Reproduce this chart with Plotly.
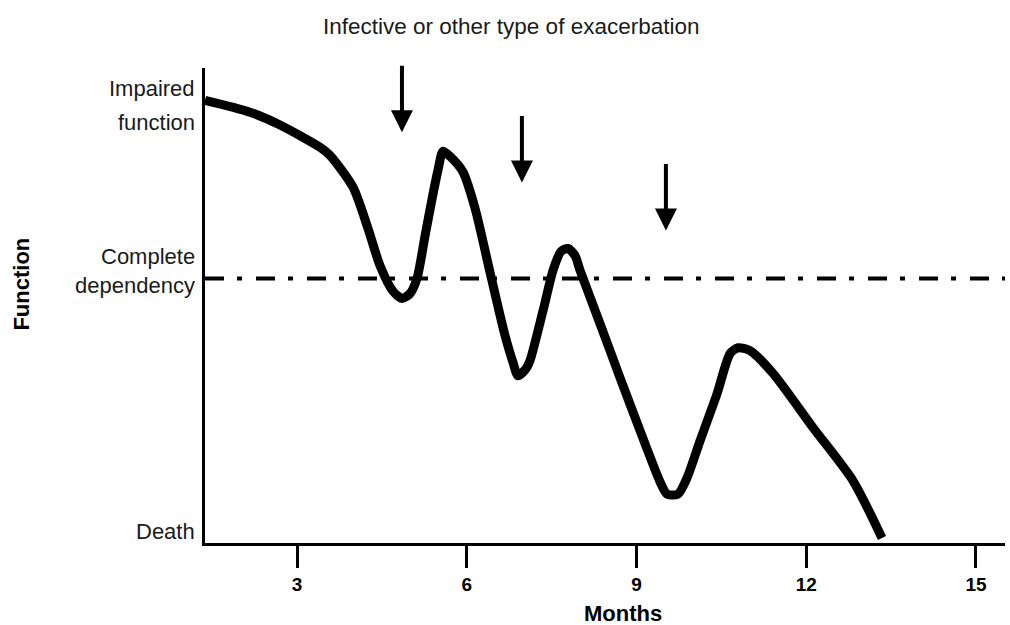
import plotly.graph_objects as go

# ---------------- data ----------------
months = [1.374, 2.169, 2.700, 3.407, 3.583, 3.990, 4.255, 4.467, 4.697, 4.856,
          4.997, 5.121, 5.262, 5.386, 5.492, 5.580, 5.704, 5.934, 6.146, 6.411,
          6.676, 6.818, 6.906, 7.047, 7.118, 7.348, 7.525, 7.666, 7.790,
          7.914, 8.002, 8.355, 8.709, 9.151, 9.416, 9.540, 9.734,
          9.893, 10.123, 10.423, 10.655, 10.796, 11.006, 11.413, 12.120, 12.827,
          13.339]
function_level = [93.2, 90.7, 88.0, 83.3, 81.6, 74.9, 66.2, 58.4, 53.0, 51.5,
                  52.5, 55.7, 64.6, 72.4, 78.5, 82.5, 81.4, 78.1, 70.5, 57.0,
                  43.7, 38.0, 35.2, 36.7, 38.4, 48.9, 57.4, 61.4, 62.0,
                  60.5, 57.4, 46.2, 34.8, 20.9, 12.9, 10.3, 10.3,
                  13.7, 21.5, 31.4, 39.9, 41.1, 40.5, 35.7, 24.3, 13.1,
                  1.05]

dependency_level = 55.7
exacerbation_months = [4.855, 6.975, 9.52]
exacerbation_tip_level = [86.5, 75.9, 65.8]

x_ticks = [3, 6, 9, 12, 15]
y_label_lines = ["Impaired", "function", "Complete", "dependency", "Death"]
y_label_levels = [95.6, 88.6, 60.3, 54.2, 2.5]

x_range = [1.374, 15.513]
y_range = [0, 100]

REG = "Liberation Sans, Arial, sans-serif"
BOLD = "Liberation Sans, Arial, sans-serif"

fig = go.Figure()

# dash-dot reference line (complete dependency)
fig.add_trace(go.Scatter(
    x=x_range, y=[dependency_level, dependency_level], mode="lines",
    line=dict(color="black", width=4, dash="19px,13px,5px,14px"),
    hoverinfo="skip", showlegend=False, cliponaxis=False))

# function trajectory
fig.add_trace(go.Scatter(
    x=months, y=function_level, mode="lines",
    line=dict(color="black", width=9, shape="spline", smoothing=0.7),
    showlegend=False, cliponaxis=False))

annotations = []
for xm, yt in zip(exacerbation_months, exacerbation_tip_level):
    annotations.append(dict(
        x=xm, y=yt, xref="x", yref="y", text="", showarrow=True,
        ax=0, ay=-68, arrowhead=2, arrowsize=1.1, arrowwidth=4,
        arrowcolor="black", standoff=0))

for txt, lv in zip(y_label_lines, y_label_levels):
    annotations.append(dict(
        x=0, xref="paper", y=lv, yref="y", text=txt, showarrow=False,
        xanchor="right", yanchor="middle", xshift=-8,
        font=dict(family=REG, size=22, color="#1a1a1a")))

annotations.append(dict(
    x=(511 - 205) / 800, xref="paper", y=1, yref="paper", yshift=42,
    xanchor="center", yanchor="middle", showarrow=False,
    text="Infective or other type of exacerbation",
    font=dict(family=REG, size=22.5, color="#1a1a1a")))

annotations.append(dict(
    x=0, xref="paper", xshift=-183, y=54.4, yref="y",
    text="<b>Function</b>", textangle=-90, showarrow=False,
    xanchor="center", yanchor="middle",
    font=dict(family=BOLD, size=22, color="black")))

annotations.append(dict(
    x=8.76, xref="x", y=0, yref="paper", yshift=-70,
    text="<b>Months</b>", showarrow=False,
    xanchor="center", yanchor="middle",
    font=dict(family=BOLD, size=22, color="black")))

fig.update_layout(
    width=1010, height=625,
    margin=dict(l=205, r=5, t=68, b=82),
    paper_bgcolor="white", plot_bgcolor="white",
    annotations=annotations,
    xaxis=dict(range=x_range, tickvals=x_ticks, ticktext=[str(t) for t in x_ticks],
               showline=True, linecolor="black", linewidth=3,
               ticks="outside", ticklen=22, tickwidth=3, tickcolor="black",
               showgrid=False, zeroline=False,
               tickfont=dict(family=BOLD, size=19, color="black", weight="bold")),
    yaxis=dict(range=y_range, showline=True, linecolor="black", linewidth=3,
               showticklabels=False, ticks="", showgrid=False, zeroline=False),
)

fig.write_html("out.html", config={"displayModeBar": False},
               post_script="document.body.style.margin='0';document.body.style.overflow='hidden';")
